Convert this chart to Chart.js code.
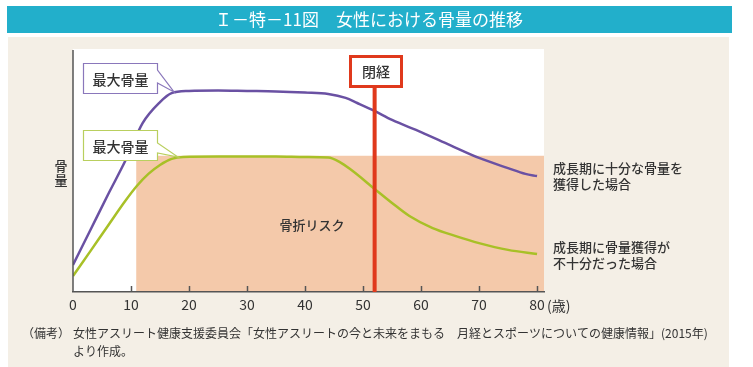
<!DOCTYPE html>
<html><head><meta charset="utf-8">
<script src="https://cdn.jsdelivr.net/npm/chart.js@4"></script>
<style>html,body{margin:0;padding:0;background:#fff;}#wrap{position:relative;width:753px;height:367px;}</style>
</head><body><div id="wrap"><canvas id="c" width="753" height="367"></canvas></div>
<script>
// ---- data ----
const titleText = "Ｉ－特－11図　女性における骨量の推移";
const xTicks = [0, 10, 20, 30, 40, 50, 60, 70, 80];
const xUnit = "(歳)";
const yTitle = ["骨", "量"];
const agesSufficient = [0,3,6,9,12,15,17,20,25,30,35,40,44,47,49,52,55,60,65,70,75,78,80];
const boneSufficient = [11.2,25.6,40.1,54.1,69.8,78.5,82.2,83.1,83.3,83.1,82.9,82.4,81.8,80.2,78.1,74.8,71.1,66.1,60.7,55.4,51.2,48.8,47.9];
const agesInsufficient = [0,3,6,9,11,13,15,17,19,25,30,35,40,44,46,48,52,55,58,62,66,70,75,80];
const boneInsufficient = [6.6,16.9,27.3,37.6,43.8,48.8,52.5,55.0,55.8,56.0,56.0,56.0,55.8,55.6,53.7,50.4,42.6,36.8,31.4,26.4,23.1,20.2,17.4,15.7];
const riskStartAge = [10.9];
const riskLevel = [56.3];
const menopauseAge = [52];
const labelPeak = "最大骨量";
const labelMenopause = "閉経";
const labelRisk = "骨折リスク";
const labelSufficient = ["成長期に十分な骨量を", "獲得した場合"];
const labelInsufficient = ["成長期に骨量獲得が", "不十分だった場合"];
const noteHead = "（備考）";
const noteLines = ["女性アスリート健康支援委員会「女性アスリートの今と未来をまもる　月経とスポーツについての健康情報」(2015年)", "より作成。"];

const FONT = '"Noto Sans CJK JP", "Noto Sans", sans-serif';
const purple = '#6a51a3', green = '#a8c027', red = '#e0391c';

function callout(ctx, x0, y0, x1, y1, a, b, tx, ty, col, text) {
  ctx.beginPath();
  ctx.moveTo(x0, y0); ctx.lineTo(x1, y0); ctx.lineTo(x1, a);
  ctx.lineTo(tx, ty); ctx.lineTo(x1, b); ctx.lineTo(x1, y1); ctx.lineTo(x0, y1);
  ctx.closePath();
  ctx.fillStyle = '#fff'; ctx.fill();
  ctx.strokeStyle = col; ctx.lineWidth = 1.2; ctx.stroke();
  ctx.fillStyle = '#333'; ctx.font = '500 14px ' + FONT;
  ctx.textAlign = 'center'; ctx.textBaseline = 'middle';
  ctx.fillText(text, (x0 + x1) / 2, (y0 + y1) / 2 + 1);
}

const deco = {
  id: 'deco',
  beforeDraw(chart) {
    const { ctx, chartArea: a, scales: { x, y } } = chart;
    ctx.save();
    ctx.fillStyle = '#fff'; ctx.fillRect(0, 0, 753, 367);
    ctx.fillStyle = '#22afcb'; ctx.fillRect(7, 6, 725, 27);
    ctx.fillStyle = '#f4efe6'; ctx.fillRect(8, 37, 721, 330);
    ctx.fillStyle = '#fff'; ctx.fillRect(a.left, a.top - 1, a.right - a.left, a.bottom - a.top + 1);
    const rx0 = x.getPixelForValue(riskStartAge[0]);
    const ry = y.getPixelForValue(riskLevel[0]);
    ctx.fillStyle = '#f4c9aa'; ctx.fillRect(rx0, ry, a.right - rx0, a.bottom - ry);
    // title
    ctx.fillStyle = '#fff'; ctx.font = '17px ' + FONT;
    ctx.textAlign = 'center'; ctx.textBaseline = 'middle';
    ctx.fillText(titleText, 369, 20);
    // risk label
    ctx.fillStyle = '#333'; ctx.font = '500 13px ' + FONT;
    ctx.fillText(labelRisk, 312, 225);
    ctx.restore();
  },
  afterDatasetsDraw(chart) {
    const { ctx, chartArea: a, scales: { x, y } } = chart;
    ctx.save();
    // y axis line
    ctx.strokeStyle = '#555'; ctx.lineWidth = 1.5;
    ctx.beginPath(); ctx.moveTo(a.left, a.top); ctx.lineTo(a.left, a.bottom); ctx.stroke();
    // tick marks (inward)
    xTicks.forEach(v => {
      if (v === 0) return;
      const px = Math.round(x.getPixelForValue(v)) + 0.5;
      ctx.beginPath(); ctx.moveTo(px, a.bottom); ctx.lineTo(px, a.bottom - 6); ctx.stroke();
    });
    // menopause line
    const mx = x.getPixelForValue(menopauseAge[0]);
    ctx.fillStyle = red; ctx.fillRect(mx - 2, 86, 4, a.bottom - 86);
    ctx.fillStyle = '#fff'; ctx.fillRect(350, 56, 51, 30);
    ctx.strokeStyle = red; ctx.lineWidth = 3; ctx.strokeRect(350.5, 56.5, 51, 30);
    ctx.fillStyle = '#333'; ctx.font = '500 14px ' + FONT;
    ctx.textAlign = 'center'; ctx.textBaseline = 'middle';
    ctx.fillText(labelMenopause, 376, 72);
    // callouts
    callout(ctx, 83.5, 63.5, 157.5, 93.5, 70, 83, 174, 92, '#8a77bb', labelPeak);
    callout(ctx, 83.5, 130.5, 157.5, 160.5, 143, 153, 178, 157, '#b9cf5e', labelPeak);
    // y title
    ctx.fillStyle = '#333'; ctx.font = '500 13px ' + FONT;
    ctx.fillText(yTitle[0], 61, 166);
    ctx.fillText(yTitle[1], 61, 180);
    // x unit
    ctx.font = '14px ' + FONT; ctx.textAlign = 'left';
    ctx.fillText(xUnit, 547, 306);
    // right-side labels
    ctx.font = '500 13px ' + FONT;
    ctx.fillText(labelSufficient[0], 553, 168);
    ctx.fillText(labelSufficient[1], 553, 184);
    ctx.fillText(labelInsufficient[0], 553, 247);
    ctx.fillText(labelInsufficient[1], 553, 263);
    // notes
    ctx.font = '12px ' + FONT;
    ctx.fillText(noteHead, 22, 333);
    ctx.fillText(noteLines[0], 73, 333);
    ctx.fillText(noteLines[1], 73, 351);
    ctx.restore();
  }
};

new Chart(document.getElementById('c'), {
  type: 'line',
  data: {
    datasets: [
      { data: agesSufficient.map((a, i) => ({ x: a, y: boneSufficient[i] })),
        borderColor: purple, borderWidth: 2.5, pointRadius: 0, cubicInterpolationMode: 'monotone', fill: false },
      { data: agesInsufficient.map((a, i) => ({ x: a, y: boneInsufficient[i] })),
        borderColor: green, borderWidth: 2.5, pointRadius: 0, cubicInterpolationMode: 'monotone', fill: false }
    ]
  },
  options: {
    responsive: false, animation: false, devicePixelRatio: 1,
    layout: { padding: { left: 73, right: 209, top: 50, bottom: 0 } },
    plugins: { legend: { display: false }, tooltip: { enabled: false }, title: { display: false } },
    scales: {
      x: {
        type: 'linear', min: 0, max: 81.2,
        afterBuildTicks: s => { s.ticks = xTicks.map(v => ({ value: v })); },
        afterFit: s => { s.height = 75; },
        grid: { display: true, drawOnChartArea: false, drawTicks: false },
        border: { display: true, color: '#555', width: 1.5 },
        ticks: { padding: 4, color: '#333', font: { family: FONT, size: 14 }, maxRotation: 0, autoSkip: false }
      },
      y: { display: false, min: 0, max: 100 }
    }
  },
  plugins: [deco]
});
</script></body></html>
